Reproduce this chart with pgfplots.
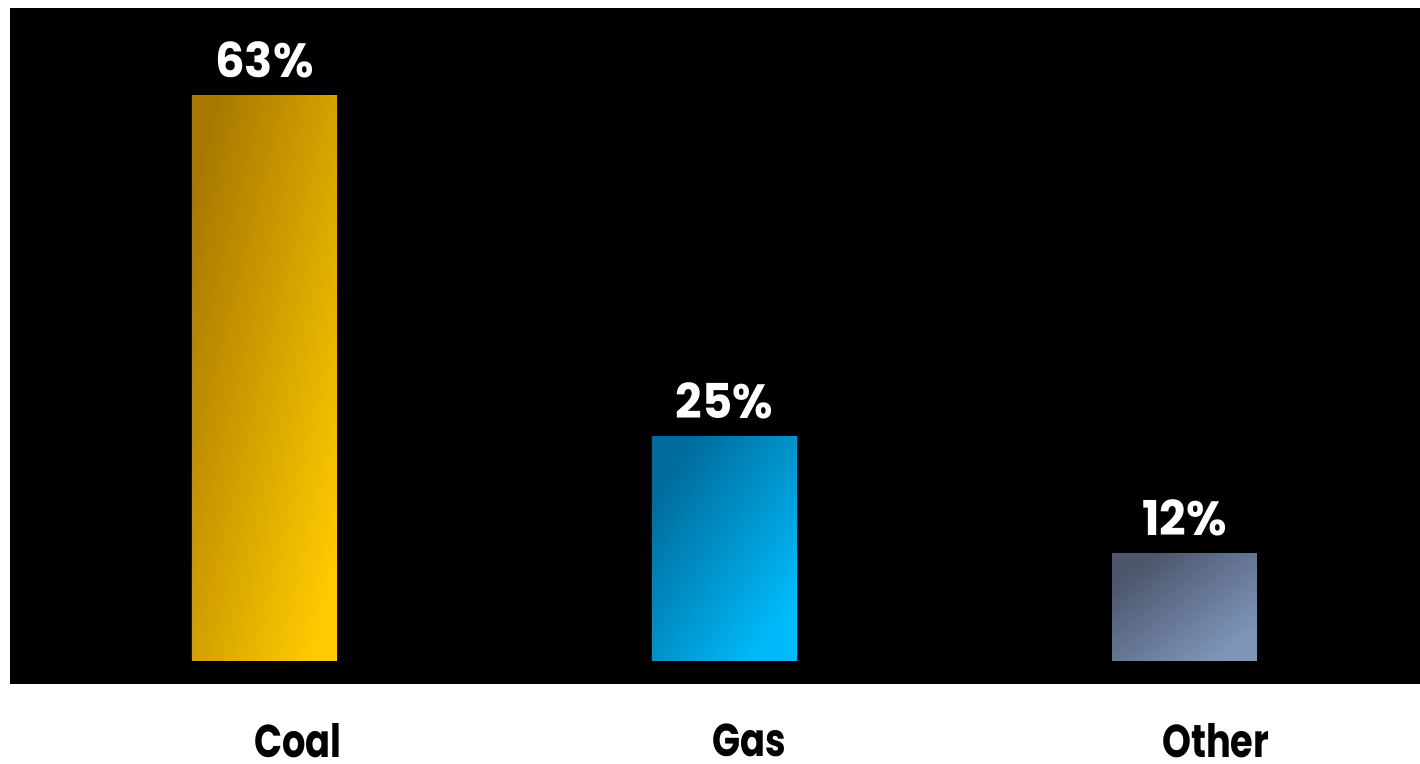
\documentclass[border=0pt]{standalone}
\usepackage{fontspec}
\setmainfont{Poppins}[FakeStretch=0.8]
\newfontfamily\valfont{Poppins}[FakeStretch=0.97]
\usepackage{pgfplots}
\pgfplotsset{compat=1.18}
\definecolor{coalA}{HTML}{A87800}
\definecolor{coalB}{HTML}{FFCA00}
\definecolor{gasA}{HTML}{006C9C}
\definecolor{gasB}{HTML}{00BAFA}
\definecolor{othA}{HTML}{4C566C}
\definecolor{othB}{HTML}{7E96BA}
\begin{document}
\begin{tikzpicture}
\useasboundingbox (-5pt,-40pt) rectangle (705pt,342pt);
\begin{axis}[
  at={(0,0)}, anchor=south west,
  scale only axis, width=705pt, height=338pt,
  xmin=-0.553, xmax=2.512, ymin=-2.56, ymax=72.7,
  axis background/.style={fill=black},
  axis line style={draw=none},
  ytick=\empty,
  xtick={0.073,1.055,2.068},
  xticklabels={Coal,Gas,Other},
  major tick length=0pt,
  xticklabel style={font=\fontsize{23}{27}\selectfont\bfseries, text=black, inner sep=0pt, yshift=-19.5pt},
  ybar, bar width=0.315, bar shift=0pt,
  /pgf/number format/assume math mode=true,
  nodes near coords={\pgfmathprintnumber{\pgfplotspointmeta}\%},
  every node near coord/.append style={font=\valfont\fontsize{24}{28}\selectfont\bfseries, text=white, yshift=5pt},
  clip=false,
]
\addplot[draw=none, left color=coalA, right color=coalB, shading angle=76] coordinates {(0,63)};
\addplot[draw=none, left color=gasA, right color=gasB, shading angle=57] coordinates {(1,25)};
\addplot[draw=none, left color=othA, right color=othB, shading angle=37] coordinates {(2,12)};
\end{axis}
\end{tikzpicture}
\end{document}
